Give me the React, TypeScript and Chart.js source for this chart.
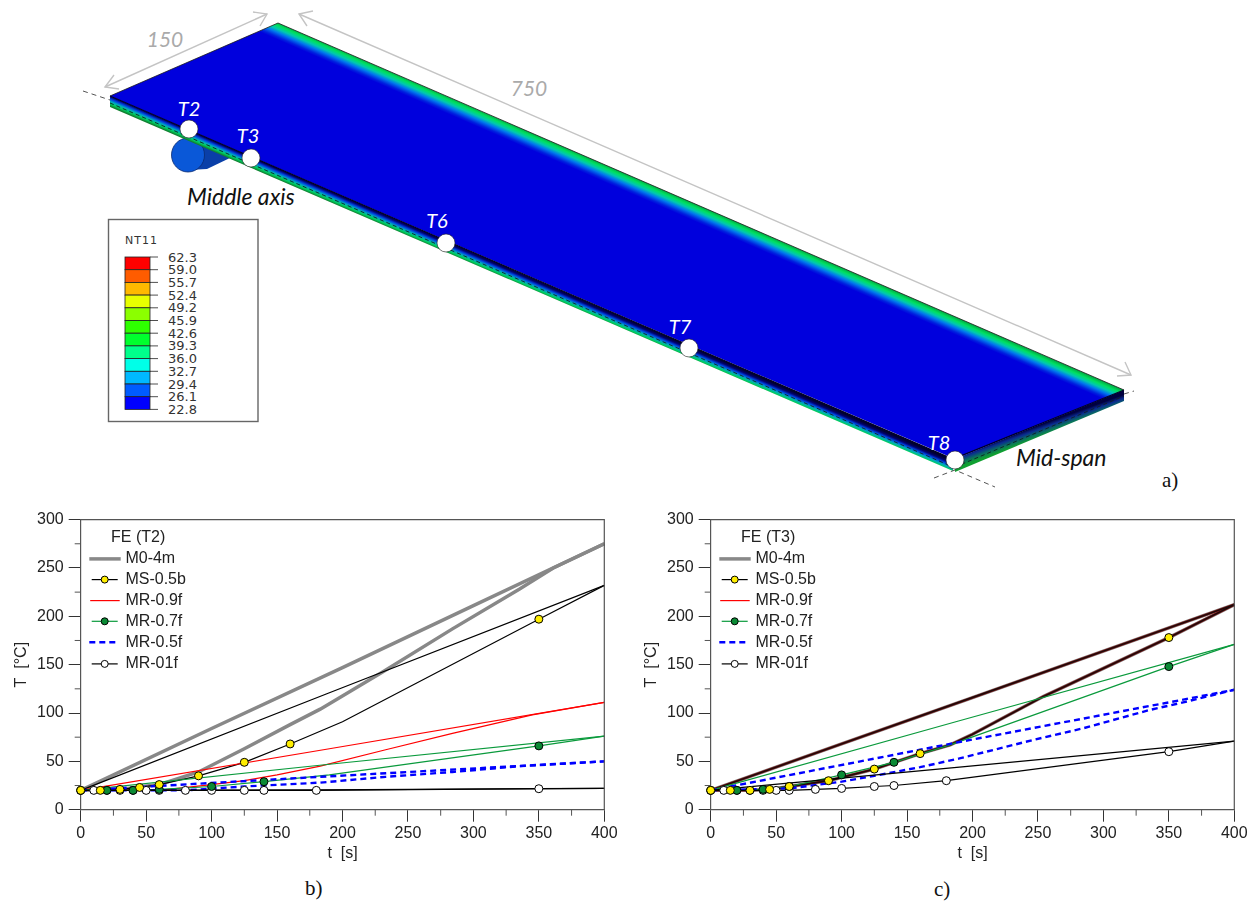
import React, { useEffect, useRef } from "react";
import { Chart, registerables } from "chart.js";

Chart.register(...registerables);

type P = [number, number];

// Chart b) — FE (T2)
const t2M0Upper: P[] = [[0, 20], [100, 84], [200, 147], [300, 211], [400, 275]];
const t2M0Lower: P[] = [[0, 20], [30, 21], [60, 26], [90, 39], [125, 63], [160, 88], [183, 104], [230, 142], [284, 187], [335, 228], [361, 250], [400, 275]];
const t2MSUpper: P[] = [[0, 20], [190, 121], [400, 232]];
const t2MSLower: P[] = [[0, 20], [15, 20], [30, 21], [45, 23], [60, 26], [90, 35], [125, 49], [160, 68], [200, 91], [350, 197], [400, 232]];
const t2MSMarks: P[] = [[0, 20], [15, 20], [30, 21], [45, 23], [60, 26], [90, 35], [125, 49], [160, 68], [350, 197]];
const t2R9Upper: P[] = [[0, 20], [190, 63], [400, 111]];
const t2R9Lower: P[] = [[0, 20], [60, 20], [100, 26], [125, 30], [150, 36], [183, 45], [233, 62], [284, 79], [345, 98], [400, 111]];
const t2R7Upper: P[] = [[0, 20], [190, 47], [400, 76]];
const t2R7Lower: P[] = [[0, 20], [20, 20], [40, 20], [60, 21], [100, 24], [140, 29], [190, 36], [350, 66], [400, 76]];
const t2R7Marks: P[] = [[0, 20], [20, 20], [40, 20], [60, 21], [100, 24], [140, 29], [350, 66]];
const t2R5Upper: P[] = [[0, 20], [183, 34], [400, 50]];
const t2R5Lower: P[] = [[0, 20], [80, 20], [125, 24], [183, 28], [233, 34], [284, 39], [335, 45], [400, 50]];
const t2R1Upper: P[] = [[0, 20], [180, 20.5], [400, 22]];
const t2R1Lower: P[] = [[0, 20], [60, 20], [100, 20], [180, 20], [350, 21.7], [400, 22]];
const t2R1Marks: P[] = [[0, 20], [10, 20], [20, 20], [30, 20], [40, 20], [50, 20], [60, 20], [80, 20], [100, 20], [125, 20], [140, 20], [180, 20], [350, 21.7]];

// Chart c) — FE (T3)
const t3TopUpper: P[] = [[0, 20], [100, 68], [200, 116], [300, 164], [400, 212]];
const t3TopLower: P[] = [[0, 20], [15, 20], [30, 20], [45, 21], [60, 24], [90, 30], [125, 42], [160, 58], [183, 67], [200, 78], [254, 117], [350, 178], [400, 212]];
const t3MSMarks: P[] = [[0, 20], [15, 20], [30, 20], [45, 21], [60, 24], [90, 30], [125, 42], [160, 58], [350, 178]];
const t3R7Upper: P[] = [[0, 20], [190, 92], [400, 171]];
const t3R7Lower: P[] = [[0, 20], [20, 20], [40, 21], [60, 24], [100, 36], [140, 49], [183, 67], [350, 148], [400, 171]];
const t3R7Marks: P[] = [[0, 20], [20, 20], [40, 21], [60, 24], [100, 36], [140, 49], [350, 148]];
const t3R5Upper: P[] = [[0, 20], [160, 62], [190, 70], [350, 111], [400, 124]];
const t3R5Lower: P[] = [[0, 20], [60, 22], [100, 29], [125, 35], [160, 44], [190, 53], [246, 72], [284, 84], [335, 103], [361, 111], [400, 124]];
const t3R1Upper: P[] = [[0, 20], [190, 44], [400, 71]];
const t3R1Lower: P[] = [[0, 20], [10, 20], [20, 20], [30, 20], [40, 20], [50, 20], [60, 20], [80, 21], [100, 22], [125, 24], [140, 25], [180, 30], [350, 60], [400, 71]];
const t3R1Marks: P[] = [[0, 20], [10, 20], [20, 20], [30, 20], [40, 20], [50, 20], [60, 20], [80, 21], [100, 22], [125, 24], [140, 25], [180, 30], [350, 60]];

const seriesNames = ["M0-4m", "MS-0.5b", "MR-0.9f", "MR-0.7f", "MR-0.5f", "MR-01f"];
const contourValues = ["62.3", "59.0", "55.7", "52.4", "49.2", "45.9", "42.6", "39.3", "36.0", "32.7", "29.4", "26.1", "22.8"];
const contourColors = ["#ff0000", "#ff5c00", "#ffb900", "#e8ff00", "#8bff00", "#2eff00", "#00ff2e", "#00ff8b", "#00ffe8", "#00b9ff", "#005cff", "#0000ff"];
const gaugeLabels = ["T2", "T3", "T6", "T7", "T8"];

const FONT = "'Liberation Sans', Arial, sans-serif";
const INK = "#222";
const AXIS = "#555";
const GREY = "#888888";
const RED = "#ff0000";
const GREEN = "#0a9a3c";
const BLUE = "#0000ff";
const YELLOW = "#ffee00";
const MARK_GREEN = "#0a8a34";

const toXY = (pts: P[]) => pts.map(([x, y]) => ({ x, y }));
const line = (label: string, pts: P[], color: string, width: number, order: number, dash: number[] = []) => ({
  label,
  data: toXY(pts),
  borderColor: color,
  borderWidth: width,
  borderDash: dash,
  showLine: true,
  pointRadius: 0,
  tension: 0,
  order,
  clip: false as const,
});
const marks = (label: string, pts: P[], fill: string, order: number) => ({
  label,
  data: toXY(pts),
  showLine: false,
  backgroundColor: fill,
  borderColor: "#000",
  borderWidth: 1,
  pointRadius: 4,
  order,
  clip: false as const,
});

const datasetsB = [
  line("M0-4m", t2M0Upper, GREY, 3.5, 12),
  line("M0-4m", t2M0Lower, GREY, 3.5, 12),
  line("MS-0.5b", t2MSUpper, "#000", 1.2, 11),
  line("MS-0.5b", t2MSLower, "#000", 1.2, 11),
  line("MR-0.9f", t2R9Upper, RED, 1.2, 10),
  line("MR-0.9f", t2R9Lower, RED, 1.2, 10),
  line("MR-0.7f", t2R7Upper, GREEN, 1.2, 9),
  line("MR-0.7f", t2R7Lower, GREEN, 1.2, 9),
  line("MR-0.5f", t2R5Upper, BLUE, 2.4, 8, [6, 4]),
  line("MR-0.5f", t2R5Lower, BLUE, 2.4, 8, [6, 4]),
  line("MR-01f", t2R1Upper, "#000", 1.2, 7),
  line("MR-01f", t2R1Lower, "#000", 1.2, 7),
  marks("MR-01f", t2R1Marks, "#fff", 3),
  marks("MR-0.7f", t2R7Marks, MARK_GREEN, 2),
  marks("MS-0.5b", t2MSMarks, YELLOW, 1),
];

const datasetsC = [
  line("M0-4m", t3TopUpper, GREY, 3.5, 12),
  line("M0-4m", t3TopLower, GREY, 3.5, 12),
  line("MR-0.9f", t3TopUpper, "#7a1010", 2.4, 11),
  line("MR-0.9f", t3TopLower, "#7a1010", 2.4, 11),
  line("MS-0.5b", t3TopUpper, "#1a0a0a", 1.4, 10),
  line("MS-0.5b", t3TopLower, "#1a0a0a", 1.4, 10),
  line("MR-0.7f", t3R7Upper, GREEN, 1.2, 9),
  line("MR-0.7f", t3R7Lower, GREEN, 1.2, 9),
  line("MR-0.5f", t3R5Upper, BLUE, 2.4, 8, [6, 4]),
  line("MR-0.5f", t3R5Lower, BLUE, 2.4, 8, [6, 4]),
  line("MR-01f", t3R1Upper, "#000", 1.2, 7),
  line("MR-01f", t3R1Lower, "#000", 1.2, 7),
  marks("MR-01f", t3R1Marks, "#fff", 3),
  marks("MR-0.7f", t3R7Marks, MARK_GREEN, 2),
  marks("MS-0.5b", t3MSMarks, YELLOW, 1),
];

// Minor ticks, the closing top/right frame and the in-plot legend.
const framePlugin = {
  id: "frame",
  afterDatasetsDraw(chart: any, _a: any, opts: any) {
    const { ctx, chartArea: a, scales } = chart;
    ctx.save();
    ctx.strokeStyle = AXIS;
    ctx.lineWidth = 1.2;
    ctx.beginPath();
    ctx.moveTo(a.left, a.top);
    ctx.lineTo(a.right, a.top);
    ctx.lineTo(a.right, a.bottom);
    ctx.stroke();
    ctx.lineWidth = 1;
    ctx.beginPath();
    for (let v = 25; v < 400; v += 50) {
      const x = scales.x.getPixelForValue(v);
      ctx.moveTo(x, a.bottom);
      ctx.lineTo(x, a.bottom + 6);
    }
    for (let v = 25; v < 300; v += 50) {
      const y = scales.y.getPixelForValue(v);
      ctx.moveTo(a.left, y);
      ctx.lineTo(a.left - 6, y);
    }
    ctx.stroke();

    ctx.font = `16px ${FONT}`;
    ctx.fillStyle = INK;
    ctx.textBaseline = "middle";
    ctx.textAlign = "left";
    ctx.fillText(opts.title, a.left + 30.3, a.top + 18);
    const rows = [39.3, 60, 81, 101.7, 122.7, 144.3];
    const styles = [
      { c: GREY, w: 3.5, x0: 8.6, x1: 40, d: [] as number[], m: "" },
      { c: "#000", w: 1.2, x0: 11, x1: 37, d: [], m: YELLOW },
      { c: RED, w: 1.2, x0: 9.5, x1: 39, d: [], m: "" },
      { c: GREEN, w: 1.2, x0: 11, x1: 37, d: [], m: MARK_GREEN },
      { c: BLUE, w: 2.4, x0: 8.6, x1: 36, d: [6, 4], m: "" },
      { c: "#000", w: 1.2, x0: 11, x1: 37, d: [], m: "#fff" },
    ];
    seriesNames.forEach((name, i) => {
      const y = a.top + rows[i];
      const s = styles[i];
      ctx.strokeStyle = s.c;
      ctx.lineWidth = s.w;
      ctx.setLineDash(s.d);
      ctx.beginPath();
      ctx.moveTo(a.left + s.x0, y);
      ctx.lineTo(a.left + s.x1, y);
      ctx.stroke();
      ctx.setLineDash([]);
      if (s.m) {
        ctx.beginPath();
        ctx.arc(a.left + 24, y, 3.5, 0, Math.PI * 2);
        ctx.fillStyle = s.m;
        ctx.fill();
        ctx.strokeStyle = "#000";
        ctx.lineWidth = 1;
        ctx.stroke();
      }
      ctx.fillStyle = INK;
      ctx.fillText(name, a.left + 44.7, y);
    });
    ctx.restore();
  },
};

function PlotCanvas({ left, datasets, title }: { left: number; datasets: any[]; title: string }) {
  const ref = useRef<HTMLCanvasElement>(null);
  useEffect(() => {
    const tickFont = { family: FONT, size: 16 };
    const chart = new Chart(ref.current as HTMLCanvasElement, {
      type: "scatter",
      data: { datasets },
      plugins: [framePlugin],
      options: {
        animation: false,
        responsive: false,
        events: [],
        layout: { padding: { top: 14, right: 20.7, left: 0, bottom: 0 } },
        plugins: { legend: { display: false }, tooltip: { enabled: false }, frame: { title } } as any,
        scales: {
          x: {
            type: "linear",
            min: 0,
            max: 400,
            afterFit: (s: any) => { s.height = 60.3; },
            border: { color: AXIS, width: 1.2 },
            grid: { drawOnChartArea: false, tickLength: 12, tickColor: "#333", tickWidth: 1 },
            ticks: { stepSize: 50, color: INK, font: tickFont, padding: 2, maxRotation: 0 },
            title: { display: true, text: "t  [s]", color: INK, font: tickFont, padding: { top: 0, bottom: 7 } },
          },
          y: {
            type: "linear",
            min: 0,
            max: 300,
            afterFit: (s: any) => { s.width = 80.7; },
            border: { color: AXIS, width: 1.2 },
            grid: { drawOnChartArea: false, tickLength: 12, tickColor: "#333", tickWidth: 1 },
            ticks: { stepSize: 50, color: INK, font: tickFont, padding: 5 },
            title: { display: true, text: "T  [°C]", color: INK, font: tickFont, padding: { top: 12, bottom: 0 } },
          },
        },
      } as any,
    });
    return () => chart.destroy();
  }, []);
  return <canvas ref={ref} width={625} height={365} style={{ position: "absolute", left, top: 505, width: 625, height: 365 }} />;
}

function Plate() {
  const serif = "'Liberation Serif', 'Times New Roman', serif";
  const humanist = "Lato, 'Open Sans', sans-serif";
  const gaugeDots = [[189, 129], [251, 158], [446, 243], [689, 348], [955, 460]];
  const gaugeText = [[189, 116], [248, 143], [437, 228], [680, 334], [939, 450]];
  return (
    <svg width={1256} height={903} style={{ position: "absolute", left: 0, top: 0 }}>
      <defs>
        <linearGradient id="topFace" gradientUnits="userSpaceOnUse" x1={700} y1={206} x2={693.6} y2={220.7}>
          <stop offset="0" stopColor="#00aa44" />
          <stop offset="0.2" stopColor="#00e060" />
          <stop offset="0.4" stopColor="#00c8b0" />
          <stop offset="0.6" stopColor="#0078ee" />
          <stop offset="0.85" stopColor="#0020e0" />
          <stop offset="1" stopColor="#0000dd" />
        </linearGradient>
        <linearGradient id="frontFace" gradientUnits="userSpaceOnUse" x1={500} y1={264} x2={495.6} y2={274.1}>
          <stop offset="0" stopColor="#000030" />
          <stop offset="0.2" stopColor="#000070" />
          <stop offset="0.4" stopColor="#0040e0" />
          <stop offset="0.6" stopColor="#00a8c0" />
          <stop offset="0.8" stopColor="#00d060" />
          <stop offset="1" stopColor="#108030" />
        </linearGradient>
        <linearGradient id="sideFace" gradientUnits="userSpaceOnUse" x1={1040} y1={425} x2={1044} y2={436}>
          <stop offset="0" stopColor="#000040" />
          <stop offset="0.3" stopColor="#0a2a90" />
          <stop offset="0.65" stopColor="#0a7060" />
          <stop offset="1" stopColor="#10a030" />
        </linearGradient>
      </defs>

      {/* dimension arrows */}
      <g stroke="#c4c4c4" strokeWidth={1.4} fill="none">
        <path d="M105 87 L267 14" />
        <path d="M114 75 L105 87 L119 89" />
        <path d="M253 12 L267 14 L260 26" />
        <path d="M299 14 L1131 375" />
        <path d="M313 11 L299 14 L307 26" />
        <path d="M1117 376 L1131 375 L1125 362" />
      </g>
      <text x={165} y={47} textAnchor="middle" fontFamily={humanist} fontStyle="italic" fontSize={21} fill="#aaa">150</text>
      <text x={529} y={96} textAnchor="middle" fontFamily={humanist} fontStyle="italic" fontSize={21} fill="#aaa">750</text>

      {/* support roller */}
      <polygon points="190,138 232,157 207,169 188,170" fill="#0a3fa8" />
      <ellipse cx={188} cy={155} rx={16.5} ry={17} fill="#0a58d8" stroke="#0a2a70" strokeWidth={0.8} />

      {/* plate faces */}
      <polygon points="110,96 953,459 953,471 110,107" fill="url(#frontFace)" />
      <polygon points="955,459 1124,390 1124,401 955,472" fill="url(#sideFace)" />
      <polygon points="110,96 278,23 1124,390 955,459" fill="url(#topFace)" />
      <path d="M110 96 L953 459 L1124 390" stroke="#000028" strokeWidth={1.2} fill="none" />
      <path d="M110 96 L278 23 L1124 390" stroke="#1a1a1a" strokeWidth={0.8} fill="none" />
      <path d="M110 103 L953 467 M955 467 L1124 396" stroke="#102020" strokeWidth={0.9} strokeDasharray="4 3" fill="none" />
      <g stroke="#555" strokeWidth={1} strokeDasharray="5 4" fill="none">
        <path d="M83 91 L110 100" />
        <path d="M934 478 L955 470 L995 487" />
        <path d="M1124 394 L1134 391" />
      </g>

      {gaugeDots.map(([cx, cy], i) => (
        <circle key={i} cx={cx} cy={cy} r={9} fill="#fff" stroke="#222" strokeWidth={0.6} />
      ))}
      {gaugeLabels.map((s, i) => (
        <text key={s} x={gaugeText[i][0]} y={gaugeText[i][1]} textAnchor="middle" fontFamily={humanist} fontStyle="italic" fontSize={20} fill="#fff">{s}</text>
      ))}
      <text x={187} y={205} fontFamily={humanist} fontStyle="italic" fontSize={23} fill="#111">Middle axis</text>
      <text x={1016} y={466} fontFamily={humanist} fontStyle="italic" fontSize={23} fill="#111">Mid-span</text>
      <text x={1162} y={487} fontFamily={serif} fontSize={21} fill="#111">a)</text>
      <text x={305} y={895} fontFamily={serif} fontSize={21} fill="#111">b)</text>
      <text x={934} y={896} fontFamily={serif} fontSize={21} fill="#111">c)</text>

      {/* contour key */}
      <rect x={108.5} y={219.5} width={149.5} height={202} fill="#fff" stroke="#666" strokeWidth={1.4} />
      <text x={125} y={244} fontFamily="'DejaVu Sans', sans-serif" fontSize={11} letterSpacing={1} fill="#333">NT11</text>
      {contourColors.map((c, i) => (
        <rect key={c} x={125} y={257 + i * 12.7} width={25} height={12.7} fill={c} stroke="#222" strokeWidth={0.8} />
      ))}
      {contourValues.map((v, i) => (
        <g key={v}>
          <line x1={150} x2={158} y1={257 + i * 12.7} y2={257 + i * 12.7} stroke="#222" strokeWidth={0.8} />
          <text x={168} y={261.5 + i * 12.7} fontFamily="'DejaVu Sans', sans-serif" fontSize={13} fill="#333">{v}</text>
        </g>
      ))}
    </svg>
  );
}

export default function App() {
  return (
    <div style={{ position: "absolute", left: 0, top: 0, width: 1256, height: 903, overflow: "hidden", background: "#fff" }}>
      <Plate />
      <PlotCanvas left={0} datasets={datasetsB} title="FE (T2)" />
      <PlotCanvas left={630} datasets={datasetsC} title="FE (T3)" />
    </div>
  );
}
